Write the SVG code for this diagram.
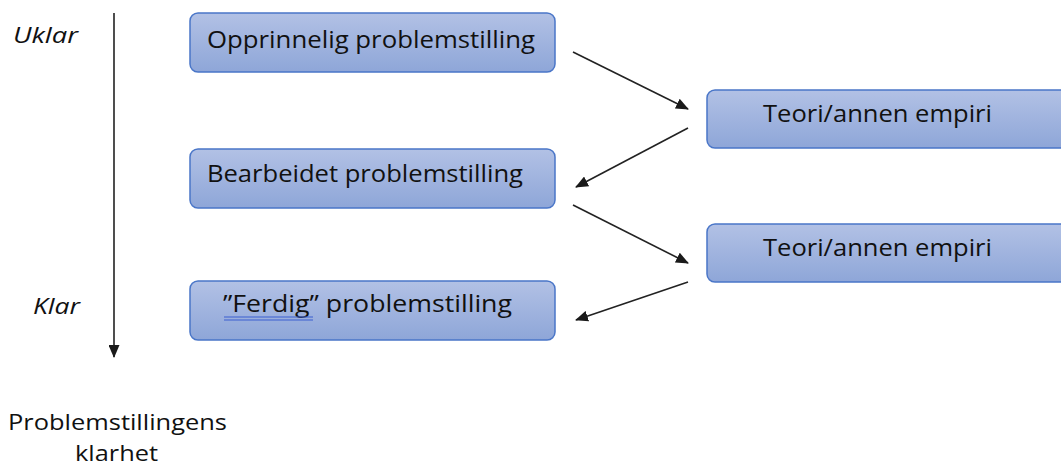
<svg xmlns="http://www.w3.org/2000/svg" width="1061" height="468" viewBox="0 0 1061 468">
<defs>
<linearGradient id="g" x1="0" y1="0" x2="0" y2="1">
<stop offset="0" stop-color="#b2c1e5"/>
<stop offset="1" stop-color="#8ea6d8"/>
</linearGradient>
<marker id="ah" markerWidth="13" markerHeight="11" refX="12" refY="5.5" orient="auto" markerUnits="userSpaceOnUse">
<path d="M0,0 L13,5.5 L0,11 Z" fill="#1a1a1a"/>
</marker>
<style>
.box{fill:url(#g);stroke:#4a76c8;stroke-width:1.5}
.t{font-family:"Open Sans","Liberation Sans",sans-serif;font-size:24px;fill:#111}
.s{font-family:"Open Sans","Liberation Sans",sans-serif;font-size:22px;fill:#111}
.i{font-family:"Open Sans","Liberation Sans",sans-serif;font-size:22px;font-style:italic;fill:#111}
.c{stroke:#222;stroke-width:1.6;fill:none;marker-end:url(#ah)}
</style>
</defs>
<rect width="1061" height="468" fill="#fff"/>
<g id="axis">
<line class="c" x1="114" y1="13" x2="114" y2="357"/>
<text class="i" x="13" y="43" textLength="65" lengthAdjust="spacingAndGlyphs">Uklar</text>
<text class="i" x="33" y="314" textLength="47" lengthAdjust="spacingAndGlyphs">Klar</text>
<text class="s" x="8" y="430" textLength="219" lengthAdjust="spacingAndGlyphs">Problemstillingens</text>
<text class="s" x="75" y="461" textLength="83" lengthAdjust="spacingAndGlyphs">klarhet</text>
</g>
<g id="n1">
<rect class="box" x="190" y="13" width="365" height="59" rx="8"/>
<text class="t" x="207" y="48" textLength="328" lengthAdjust="spacingAndGlyphs">Opprinnelig problemstilling</text>
</g>
<g id="n2">
<rect class="box" x="707" y="90" width="370" height="58" rx="8"/>
<text class="t" x="763" y="122" textLength="229" lengthAdjust="spacingAndGlyphs">Teori/annen empiri</text>
</g>
<g id="n3">
<rect class="box" x="190" y="149" width="365" height="59" rx="8"/>
<text class="t" x="207" y="182" textLength="316" lengthAdjust="spacingAndGlyphs">Bearbeidet problemstilling</text>
</g>
<g id="n4">
<rect class="box" x="707" y="224" width="370" height="58" rx="8"/>
<text class="t" x="763" y="256" textLength="229" lengthAdjust="spacingAndGlyphs">Teori/annen empiri</text>
</g>
<g id="n5">
<rect class="box" x="190" y="281" width="365" height="59" rx="8"/>
<text class="t" x="223" y="312" textLength="289" lengthAdjust="spacingAndGlyphs">”Ferdig” problemstilling</text>
<line x1="224" y1="317" x2="313" y2="317" stroke="#3b5fd0" stroke-width="1.2"/>
<line x1="224" y1="320" x2="313" y2="320" stroke="#3b5fd0" stroke-width="1.2"/>
</g>
<g id="connectors">
<line class="c" x1="573" y1="52" x2="688" y2="109"/>
<line class="c" x1="688" y1="128" x2="576" y2="187"/>
<line class="c" x1="573" y1="205" x2="688" y2="263"/>
<line class="c" x1="688" y1="282" x2="576" y2="320"/>
</g>
</svg>
